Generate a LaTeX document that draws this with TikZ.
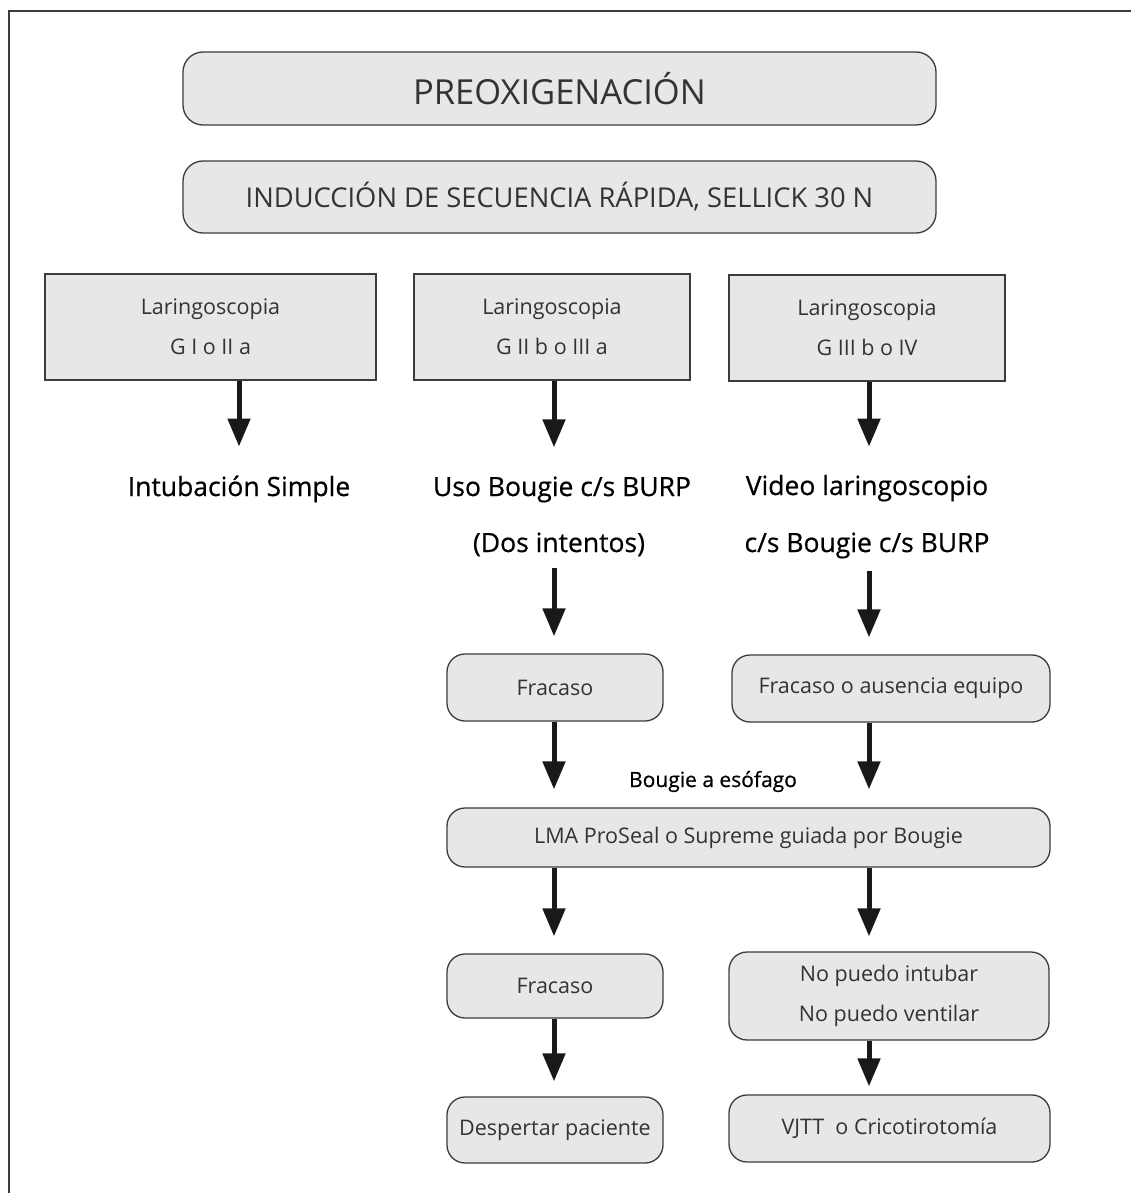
\documentclass[tikz,border=0pt]{standalone}
\usepackage{fontspec}
\setmainfont{Open Sans}
\newfontfamily\medfont{Open Sans}[FakeBold=0.6]
\usetikzlibrary{arrows.meta}

\definecolor{boxfill}{HTML}{E6E7E8}
\definecolor{boxline}{HTML}{3C3C3C}
\definecolor{boxtext}{HTML}{333333}

\tikzset{
  stepbox/.style={draw=boxline, line width=1.3pt, fill=boxfill, rounded corners=18pt,
    text=boxtext, align=center, inner sep=0pt, font=\fontsize{21.5}{40}\selectfont},
  headbox/.style={stepbox, minimum width=753pt, rounded corners=20pt},
  larbox/.style={stepbox, sharp corners, minimum height=106pt},
  outcome/.style={text=black, inner sep=0pt, anchor=base, font=\medfont\fontsize{26.5}{30}\selectfont},
  flow/.style={line width=5pt, draw=black!90, -{Triangle[length=28pt,width=22pt]}},
}

\begin{document}
\begin{tikzpicture}[x=1pt,y=-1pt]
\useasboundingbox (0,0) rectangle (1131,1193);

% Frame
\draw[line width=2pt, boxline] (1131,11) -- (9,11) -- (9,1193);

% Columns
\coordinate (colB) at (554,0);
\coordinate (colC) at (869,0);

% Header boxes
\node[headbox, minimum height=73pt, font=\fontsize{34.5}{38}\selectfont] (preox) at (559.5,88.5) {PREOXIGENACIÓN};
\node[headbox, minimum height=72pt, font=\fontsize{27.3}{30}\selectfont] (isr) at (559.5,197) {INDUCCIÓN DE SECUENCIA RÁPIDA, SELLICK 30 N};

% Laryngoscopy grades
\node[larbox, minimum width=331pt] (lar1) at (210.5,327) {Laringoscopia\\G I o II a};
\node[larbox, minimum width=276pt] (lar2) at (552,327) {Laringoscopia\\G II b o III a};
\node[larbox, minimum width=276pt] (lar3) at (867,328) {Laringoscopia\\G III b o IV};

% Outcomes
\node[outcome] (simple) at (239,496) {Intubación Simple};
\node[outcome] (bougie) at (562,496) {Uso Bougie c/s BURP};
\node[outcome] (intentos) at (559,552) {(Dos intentos)};
\node[outcome] (video) at (867,495) {Video laringoscopio};
\node[outcome] (csbougie) at (867,552) {c/s Bougie c/s BURP};

% Rescue steps
\node[stepbox, minimum width=216pt, minimum height=67pt] (fracaso1) at (555,687.5) {Fracaso};
\node[stepbox, minimum width=318pt, minimum height=67pt] (ausencia) at (891,688.5) {Fracaso o ausencia equipo};
\node[outcome, font=\medfont\fontsize{21}{24}\selectfont] (esofago) at (713,787) {Bougie a esófago};
\node[stepbox, minimum width=603pt, minimum height=59pt] (lma) at (748.5,837.5) {LMA ProSeal o Supreme guiada por Bougie};
\node[stepbox, minimum width=216pt, minimum height=64pt] (fracaso2) at (555,986) {Fracaso};
\node[stepbox, minimum width=320pt, minimum height=88pt] (nopuedo) at (889,996) {No puedo intubar\\No puedo ventilar};
\node[stepbox, minimum width=216pt, minimum height=66pt] (despertar) at (555,1130) {Despertar paciente};
\node[stepbox, minimum width=321pt, minimum height=67pt] (vjtt) at (889.5,1128.5) {VJTT\ \ o Cricotirotomía};

% Arrows
\draw[flow, shorten >=29pt] (lar1.south -| simple) -- (simple.north);
\draw[flow, shorten >=29pt] (lar2.south -| colB) -- (bougie.north -| colB);
\draw[flow, shorten >=28pt] (lar3.south -| colC) -- (video.north -| colC);
\draw[flow, shorten <=12pt, shorten >=17pt] (intentos.south -| colB) -- (fracaso1.north -| colB);
\draw[flow, shorten <=12pt, shorten >=17pt] (csbougie.south -| colC) -- (ausencia.north -| colC);
\draw[flow, shorten >=18pt] (fracaso1.south -| colB) -- (lma.north -| colB);
\draw[flow, shorten >=18pt] (ausencia.south -| colC) -- (lma.north -| colC);
\draw[flow, shorten >=17pt] (lma.south -| colB) -- (fracaso2.north -| colB);
\draw[flow, shorten >=15pt] (lma.south -| colC) -- (nopuedo.north -| colC);
\draw[flow, shorten >=15pt] (fracaso2.south -| colB) -- (despertar.north -| colB);
\draw[flow, shorten >=8pt] (nopuedo.south -| colC) -- (vjtt.north -| colC);
\end{tikzpicture}
\end{document}
